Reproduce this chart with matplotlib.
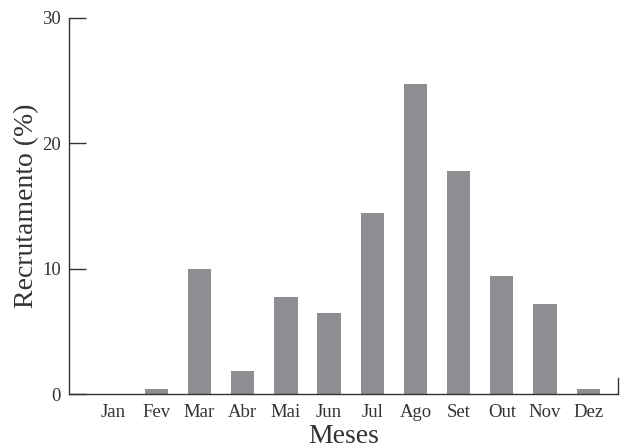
import numpy as np
import matplotlib.pyplot as plt

plt.rcParams['font.family'] = ['Liberation Serif', 'DejaVu Serif']

meses = ['Jan', 'Fev', 'Mar', 'Abr', 'Mai', 'Jun', 'Jul', 'Ago', 'Set', 'Out', 'Nov', 'Dez']
recrutamento = [0.0, 0.4, 10.0, 1.8, 7.7, 6.5, 14.4, 24.7, 17.8, 9.4, 7.2, 0.4]

fig = plt.figure(figsize=(6.23, 4.48), dpi=100)
ax = fig.add_axes([0.1108, 0.1205, 0.8812, 0.8395])

x = np.arange(len(meses))
ax.bar(x, recrutamento, width=0.54, color='#8d8e92')

ax.set_xlim(-1.02, 11.69)
ax.set_ylim(0, 30)
ax.set_yticks([0, 10, 20, 30])
ax.set_xticks(x)
ax.set_xticklabels(meses)

ax.spines['top'].set_visible(False)
ax.spines['right'].set_bounds(0, 1.3)
for s in ['left', 'bottom', 'right']:
    ax.spines[s].set_linewidth(1.0)
    ax.spines[s].set_color('#333333')

ax.tick_params(axis='y', direction='in', length=12, width=1.0, color='#333333',
               labelsize=13.5, pad=6, labelcolor='#333333')
ax.tick_params(axis='x', length=0, labelsize=13.5, pad=7, labelcolor='#333333')

ax.set_ylabel('Recrutamento (%)', fontsize=20, color='#333333', labelpad=2)
ax.set_xlabel('Meses', fontsize=20, color='#333333', labelpad=2)

fig.savefig('out.png', dpi=100)
